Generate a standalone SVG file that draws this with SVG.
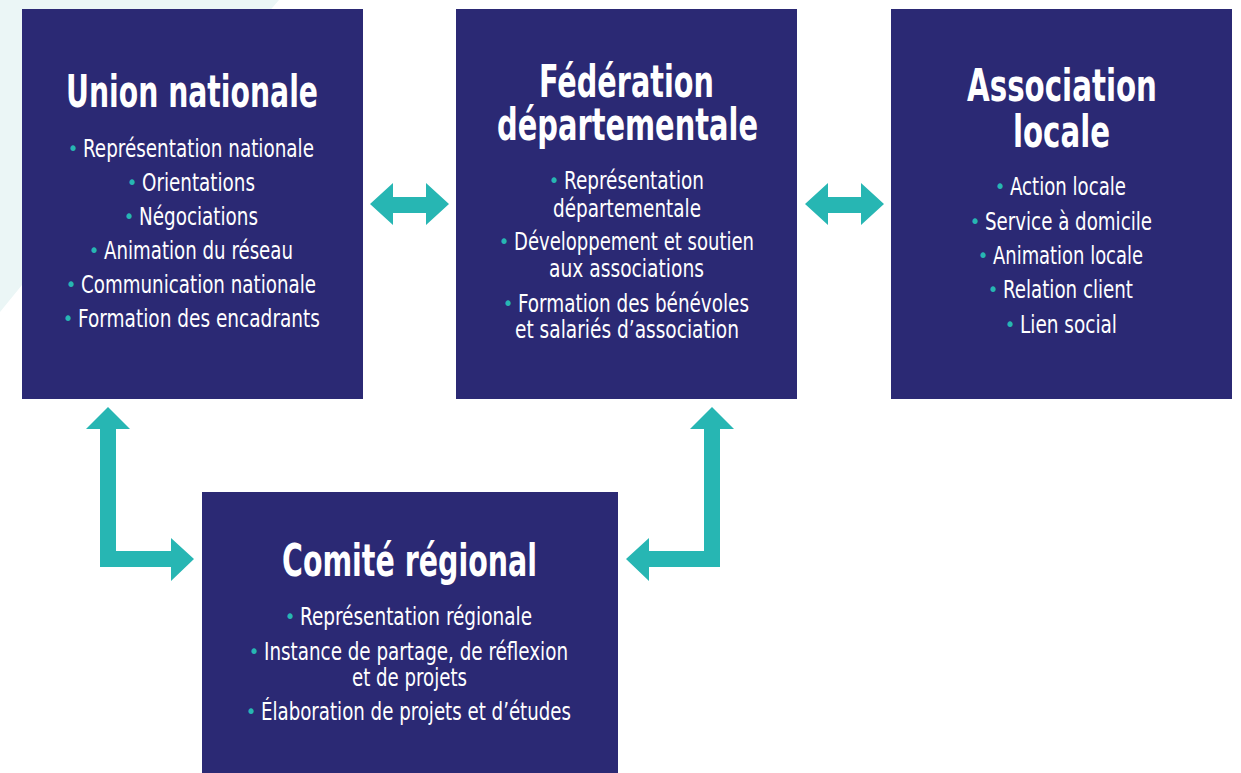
<svg xmlns="http://www.w3.org/2000/svg" width="1241" height="773" viewBox="0 0 1241 773">
<style>
.box{fill:#2b2974}
.arrow{fill:#27b6b3}
.t{font-family:"Liberation Sans Narrow","DejaVu Sans Condensed","Liberation Sans",sans-serif;font-weight:bold;font-size:44px;fill:#ffffff}
.b{font-family:"Liberation Sans Narrow","DejaVu Sans Condensed","Liberation Sans",sans-serif;font-size:25px;fill:#ffffff}
.d{font-family:"DejaVu Sans Condensed","Liberation Sans",sans-serif;font-size:20px;fill:#27b6b3;text-anchor:middle}
</style>
<rect width="1241" height="773" fill="#ffffff"/>
<polygon points="0,0 279,0 150,150 22,285 0,312" fill="#ebf6f6"/>
<g id="connectors">
<polygon class="arrow" points="370,204 393,183 393,197 426,197 426,183 449,204 426,225 426,213 393,213 393,225"/>
<polygon class="arrow" points="805,204 828,183 828,197 861,197 861,183 884,204 861,225 861,213 828,213 828,225"/>
<polygon class="arrow" points="108,407 130,429 116,429 116,551 171,551 171,538 194,559 171,581 171,567 100,567 100,429 86,429"/>
<polygon class="arrow" points="712,407 734,429 720,429 720,567 649,567 649,581 626,559 649,538 649,551 704,551 704,429 690,429"/>
</g>
<g id="union-nationale">
<rect class="box" x="22" y="9" width="341" height="390"/>
<text class="t" x="66" y="107" textLength="252" lengthAdjust="spacingAndGlyphs">Union nationale</text>
<text class="d" x="73" y="155">•</text><text class="b" x="83" y="157" textLength="231" lengthAdjust="spacingAndGlyphs">Représentation nationale</text>
<text class="d" x="132" y="189">•</text><text class="b" x="142" y="191" textLength="113" lengthAdjust="spacingAndGlyphs">Orientations</text>
<text class="d" x="129" y="223">•</text><text class="b" x="139" y="225" textLength="119" lengthAdjust="spacingAndGlyphs">Négociations</text>
<text class="d" x="94" y="257">•</text><text class="b" x="104" y="259" textLength="189" lengthAdjust="spacingAndGlyphs">Animation du réseau</text>
<text class="d" x="71" y="291">•</text><text class="b" x="81" y="293" textLength="235" lengthAdjust="spacingAndGlyphs">Communication nationale</text>
<text class="d" x="68" y="325">•</text><text class="b" x="78" y="327" textLength="242" lengthAdjust="spacingAndGlyphs">Formation des encadrants</text>
</g>
<g id="federation-departementale">
<rect class="box" x="456" y="9" width="341" height="390"/>
<text class="t" x="539" y="97" textLength="175" lengthAdjust="spacingAndGlyphs">Fédération</text>
<text class="t" x="497" y="140" textLength="261" lengthAdjust="spacingAndGlyphs">départementale</text>
<text class="d" x="554" y="187">•</text><text class="b" x="564" y="189" textLength="140" lengthAdjust="spacingAndGlyphs">Représentation</text>
<text class="b" x="553" y="217" textLength="148" lengthAdjust="spacingAndGlyphs">départementale</text>
<text class="d" x="504" y="248">•</text><text class="b" x="514" y="250" textLength="240" lengthAdjust="spacingAndGlyphs">Développement et soutien</text>
<text class="b" x="549" y="277" textLength="155" lengthAdjust="spacingAndGlyphs">aux associations</text>
<text class="d" x="508" y="310">•</text><text class="b" x="518" y="312" textLength="231" lengthAdjust="spacingAndGlyphs">Formation des bénévoles</text>
<text class="b" x="515" y="338" textLength="224" lengthAdjust="spacingAndGlyphs">et salariés d’association</text>
</g>
<g id="association-locale">
<rect class="box" x="891" y="9" width="341" height="390"/>
<text class="t" x="967" y="101" textLength="190" lengthAdjust="spacingAndGlyphs">Association</text>
<text class="t" x="1013" y="147" textLength="97" lengthAdjust="spacingAndGlyphs">locale</text>
<text class="d" x="1000" y="193">•</text><text class="b" x="1010" y="195" textLength="116" lengthAdjust="spacingAndGlyphs">Action locale</text>
<text class="d" x="975" y="228">•</text><text class="b" x="985" y="230" textLength="167" lengthAdjust="spacingAndGlyphs">Service à domicile</text>
<text class="d" x="983" y="262">•</text><text class="b" x="993" y="264" textLength="150" lengthAdjust="spacingAndGlyphs">Animation locale</text>
<text class="d" x="993" y="296">•</text><text class="b" x="1003" y="298" textLength="130" lengthAdjust="spacingAndGlyphs">Relation client</text>
<text class="d" x="1010" y="331">•</text><text class="b" x="1020" y="333" textLength="97" lengthAdjust="spacingAndGlyphs">Lien social</text>
</g>
<g id="comite-regional">
<rect class="box" x="202" y="492" width="416" height="281"/>
<text class="t" x="282" y="576" textLength="255" lengthAdjust="spacingAndGlyphs">Comité régional</text>
<text class="d" x="290" y="623">•</text><text class="b" x="300" y="625" textLength="232" lengthAdjust="spacingAndGlyphs">Représentation régionale</text>
<text class="d" x="254" y="658">•</text><text class="b" x="264" y="660" textLength="304" lengthAdjust="spacingAndGlyphs">Instance de partage, de réflexion</text>
<text class="b" x="352" y="686" textLength="115" lengthAdjust="spacingAndGlyphs">et de projets</text>
<text class="d" x="251" y="718">•</text><text class="b" x="261" y="720" textLength="310" lengthAdjust="spacingAndGlyphs">Élaboration de projets et d’études</text>
</g>
</svg>
